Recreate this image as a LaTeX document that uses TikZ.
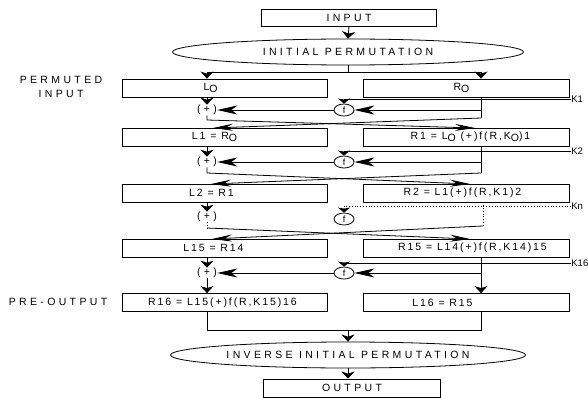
\documentclass[tikz,border=0pt]{standalone}
\usepackage{fontspec}
\setmainfont{Liberation Sans}[LetterSpace=32]
\newfontfamily\boxfont{Liberation Sans}[LetterSpace=18]
\newfontfamily\kfont{Liberation Sans}
\usetikzlibrary{arrows.meta,shapes.geometric}
\newcommand{\subo}{\raisebox{-0.35ex}{O}}

\begin{document}
\begin{tikzpicture}[
		x=1pt,y=-1pt,
		font=\fontsize{10.5}{14}\selectfont,
		blk/.style={draw,rectangle,minimum height=18pt,inner sep=0pt},
		btxt/.style={font=\fontsize{10.5}{12}\boxfont},
		oval/.style={draw,ellipse,minimum height=26pt,inner sep=0pt},
		fbox/.style={draw,ellipse,minimum width=20pt,minimum height=12pt,inner sep=0pt,font=\fontsize{9}{10}\kfont},
		xor/.style={inner sep=0pt},
		klab/.style={anchor=west,inner sep=0pt,font=\fontsize{9.5}{10}\kfont},
		darr/.style={-{Stealth[length=7pt,width=13pt,inset=2pt]}},
		larr/.style={-{Stealth[length=20pt,width=9pt,inset=6pt]}},
		carr/.style={-{Stealth[length=20pt,width=7pt,inset=7pt]}},
		sarr/.style={-{Stealth[length=5pt,width=12pt,inset=1pt]}},
		line width=0.8pt]
	\useasboundingbox (0,0) rectangle (588,398);
	%% input and initial permutation
	\node[blk,minimum width=175pt,minimum height=17pt] (in) at (349,17.5) {INPUT};
	\node[oval,minimum width=351pt] (ip) at (348,52) {INITIAL PERMUTATION};
	\draw[darr] (in.south) -- (ip.north);
	\node[align=center] (pin) at (61,87) {PERMUTED\\INPUT};
	%% round 1
	\node[blk,minimum width=205pt,label={[btxt,xshift=-14pt]center:L\subo}] (L0) at (224.5,88) {};
	\node[blk,minimum width=206pt,label={[btxt,xshift=-5pt]center:R\subo}] (R0) at (466.5,88) {};
	\coordinate (sp) at (348,72);
	\coordinate (b0) at (481,118);
	\node[xor] (x1) at (207,110) {(+)};
	\node[fbox] (f1) at (344,110) {f};
	\node[klab] (k1) at (571,99) {K1};
	\draw (ip.south) -- (sp);
	\draw[darr] (sp) -| (L0.north -| x1);
	\draw[darr] (sp) -| (R0.north -| b0);
	\draw[darr] (L0.south -| x1) -- (x1.north);
	\draw[sarr] (k1.west) -| (f1.north);
	\draw (R0.south -| b0) -- (b0);
	\draw[larr] (f1.east -| b0) -- (f1.east);
	\draw[larr] (f1.west) -- (x1.east);
	%% crossing 1
	\coordinate (a1) at (207,120);
	\coordinate (tr1) at (475,128);
	\coordinate (tl1) at (213,128);
	\draw[carr] (x1.south) -- (a1) -- (tr1);
	\draw[carr] (b0) -- (tl1);
	%% round 2
	\node[blk,minimum width=205pt,label={[btxt,xshift=-10pt]center:L1 = R\subo}] (L1) at (224.5,137) {};
	\node[blk,minimum width=206pt,label={[btxt,xshift=4pt]center:R1 = L\subo{} (+)f(R,K\subo)1}] (R1) at (466.5,137) {};
	\coordinate (b1) at (481,173);
	\node[xor] (x2) at (207,162) {(+)};
	\node[fbox] (f2) at (344,162) {f};
	\node[klab] (k2) at (571,151) {K2};
	\draw[darr] (L1.south -| x2) -- (x2.north);
	\draw[sarr] (k2.west) -| (f2.north);
	\draw (R1.south -| b1) -- (b1);
	\draw[larr] (f2.east -| b1) -- (f2.east);
	\draw[larr] (f2.west) -- (x2.east);
	%% crossing 2
	\coordinate (a2) at (207,173);
	\coordinate (tr2) at (470,184);
	\coordinate (tl2) at (211,184);
	\draw[carr] (x2.south) -- (a2) -- (tr2);
	\draw[carr] (b1) -- (tl2);
	%% round n
	\node[blk,minimum width=205pt,label={[btxt,xshift=-13pt]center:L2 = R1}] (L2) at (224.5,193) {};
	\node[blk,minimum width=206pt,label={[btxt,xshift=-4pt]center:R2 = L1(+)f(R,K1)2}] (R2) at (466.5,193) {};
	\coordinate (b2) at (483,226);
	\node[xor] (x3) at (207,217) {(+)};
	\node[fbox] (f3) at (344,219) {f};
	\node[klab] (kn) at (571,206) {Kn};
	\draw[darr] (L2.south -| x3) -- (x3.north);
	\draw[dotted,sarr] (kn.west) -| (f3.north);
	\draw[dotted] (R2.south -| b2) -- (b2);
	%% crossing n
	\coordinate (a3) at (207,228);
	\coordinate (tr3) at (470,239);
	\coordinate (tl3) at (212,239);
	\draw[dotted] (x3.south) -- (a3);
	\draw[carr] (a3) -- (tr3);
	\draw[carr] (b2) -- (tl3);
	%% round 16
	\node[blk,minimum width=205pt,label={[btxt,xshift=-11pt]center:L15 = R14}] (L15) at (224.5,248) {};
	\node[blk,minimum width=206pt,label={[btxt,xshift=6pt]center:R15 = L14(+)f(R,K14)15}] (R15) at (466.5,248) {};
	\coordinate (b15) at (481,273);
	\node[xor] (x16) at (207,273) {(+)};
	\node[fbox] (f16) at (344,273) {f};
	\node[klab] (k16) at (571,263) {K16};
	\draw[darr] (L15.south -| x16) -- (x16.north);
	\draw[sarr] (k16.west) -| (f16.north);
	\draw[larr] (b15) -- (f16.east);
	\draw[larr] (f16.west) -- (x16.east);
	%% pre-output
	\node (pout) at (58,302) {PRE-OUTPUT};
	\node[blk,minimum width=205pt,label={[btxt,xshift=-2pt]center:R16 = L15(+)f(R,K15)16}] (R16) at (224.5,302.5) {};
	\node[blk,minimum width=206pt,label={[btxt,xshift=-24pt]center:L16 = R15}] (L16) at (466.5,302.5) {};
	\draw[darr] (R15.south -| b15) -- (L16.north -| b15);
	\draw[darr] (x16.south) -- (R16.north -| x16);
	%% inverse permutation and output
	\coordinate (m) at (348,330);
	\node[oval,minimum width=355pt] (iip) at (348,355) {INVERSE INITIAL PERMUTATION};
	\node[blk,minimum width=177pt] (out) at (352,388) {OUTPUT};
	\draw (R16.south -| x16) -- (x16 |- m) -- (b15 |- m) -- (L16.south -| b15);
	\draw[darr] (m) -- (iip.north);
	\draw[darr] (iip.south) -- (iip.south |- out.north);
\end{tikzpicture}
\end{document}
